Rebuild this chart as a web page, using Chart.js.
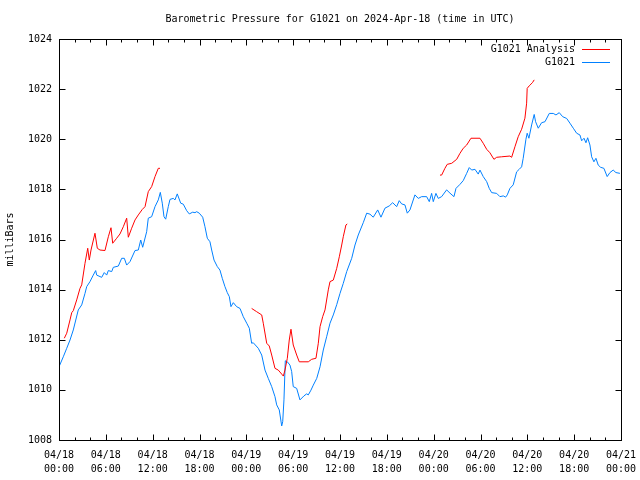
<!DOCTYPE html>
<html><head><meta charset="utf-8">
<script src="https://cdn.jsdelivr.net/npm/chart.js@4/dist/chart.umd.min.js"></script>
<style>html,body{margin:0;padding:0;background:#fff;}#wrap{width:640px;height:480px;}</style>
</head><body><div id="wrap"><canvas id="c" width="640" height="480"></canvas></div>
<script>
const chartTitle = "Barometric Pressure for G1021 on 2024-Apr-18 (time in UTC)";
const yAxisTitle = "milliBars";
const xTickLabels = [["04/18","00:00"],["04/18","06:00"],["04/18","12:00"],["04/18","18:00"],["04/19","00:00"],["04/19","06:00"],["04/19","12:00"],["04/19","18:00"],["04/20","00:00"],["04/20","06:00"],["04/20","12:00"],["04/20","18:00"],["04/21","00:00"]];
const seriesNames = ["G1021 Analysis", "G1021"];

// hours since 2024-04-18 00:00 UTC
const blueHours = [0,0.55,0.99,1.41,1.83,2.47,2.91,3.33,3.55,3.97,4.39,4.70,4.83,5.47,5.80,6.11,6.32,6.75,6.96,7.60,8.03,8.37,8.67,9.10,9.74,10.16,10.47,10.72,11.23,11.44,11.87,12.30,12.72,12.98,13.23,13.45,13.67,14.00,14.22,14.64,14.86,15.15,15.59,15.92,16.36,16.69,17.13,17.42,17.64,17.97,18.41,18.70,19.00,19.34,19.56,19.86,20.28,20.62,20.92,21.26,21.56,21.82,22.03,22.33,22.76,23.19,23.61,24.05,24.38,24.68,24.89,25.53,25.97,26.39,26.81,27.25,27.67,27.89,28.22,28.53,28.66,28.82,28.99,29.25,29.59,29.81,30.01,30.45,30.87,31.38,31.73,31.94,32.28,32.58,33.02,33.44,33.86,34.29,34.72,35.14,35.58,36.00,36.42,36.86,37.50,37.92,38.34,38.98,39.42,39.84,40.26,40.83,41.25,41.76,42.31,42.75,43.26,43.59,43.90,44.32,44.62,44.96,45.60,46.03,46.46,47.10,47.44,47.74,47.95,48.29,48.59,49.02,49.66,50.09,50.60,50.86,51.37,51.79,52.23,52.56,52.87,53.29,53.71,53.93,54.35,54.79,55.12,55.43,56.07,56.49,56.92,57.22,57.43,57.77,58.19,58.63,58.96,59.27,59.47,59.82,59.98,60.20,60.55,60.88,61.06,61.40,61.83,62.26,62.81,63.32,63.67,64.09,64.53,65.04,65.46,65.89,66.32,66.74,66.96,67.26,67.51,67.73,68.02,68.24,68.53,68.79,69.08,69.39,69.81,70.23,70.58,71.00,71.35,71.86];
const blueValues = [1010.92,1011.32,1011.66,1011.99,1012.39,1013.19,1013.39,1013.85,1014.12,1014.32,1014.58,1014.76,1014.58,1014.49,1014.68,1014.58,1014.76,1014.72,1014.89,1014.94,1015.25,1015.25,1014.98,1015.12,1015.56,1015.58,1015.98,1015.69,1016.31,1016.85,1016.91,1017.31,1017.58,1017.88,1017.45,1016.91,1016.81,1017.31,1017.60,1017.64,1017.58,1017.82,1017.45,1017.41,1017.15,1017.02,1017.09,1017.07,1017.11,1017.05,1016.89,1016.51,1016.05,1015.91,1015.58,1015.18,1014.92,1014.78,1014.45,1014.12,1013.88,1013.72,1013.32,1013.48,1013.32,1013.25,1012.92,1012.66,1012.46,1011.86,1011.88,1011.66,1011.39,1010.79,1010.46,1010.13,1009.73,1009.40,1009.20,1008.56,1008.73,1009.60,1011.16,1011.12,1010.99,1010.73,1010.13,1010.06,1009.60,1009.76,1009.84,1009.80,1009.99,1010.19,1010.46,1010.92,1011.59,1012.12,1012.66,1012.99,1013.40,1013.85,1014.25,1014.72,1015.25,1015.78,1016.18,1016.67,1017.05,1017.01,1016.89,1017.18,1016.89,1017.25,1017.34,1017.47,1017.31,1017.55,1017.42,1017.38,1017.05,1017.18,1017.78,1017.64,1017.71,1017.71,1017.51,1017.84,1017.51,1017.84,1017.64,1017.71,1017.98,1017.85,1017.71,1018.04,1018.20,1018.35,1018.64,1018.87,1018.77,1018.80,1018.61,1018.77,1018.51,1018.31,1018.04,1017.87,1017.84,1017.71,1017.74,1017.69,1017.78,1018.04,1018.18,1018.70,1018.80,1018.90,1019.24,1020.00,1020.24,1020.04,1020.57,1020.99,1020.70,1020.44,1020.66,1020.70,1021.03,1021.03,1020.97,1021.06,1020.90,1020.83,1020.64,1020.44,1020.24,1020.17,1019.94,1020.04,1019.86,1020.06,1019.77,1019.30,1019.10,1019.24,1018.97,1018.88,1018.84,1018.51,1018.67,1018.77,1018.67,1018.64];

const redHours = [0.68,0.99,1.41,1.63,1.83,2.27,2.69,2.91,3.33,3.68,3.88,4.10,4.61,4.91,5.25,5.89,6.32,6.66,6.88,7.39,7.81,8.24,8.67,8.88,9.31,9.74,10.16,10.67,11.02,11.44,11.87,12.30,12.72,12.94,18.8,24.68,25.32,25.97,26.17,26.61,26.94,27.25,27.67,28.09,28.53,28.74,28.95,29.25,29.50,29.72,30.01,30.45,30.78,31.94,32.37,32.92,33.22,33.44,33.78,34.08,34.50,34.72,35.14,35.58,35.91,36.22,36.42,36.76,36.93,42.9,48.81,49.02,49.44,49.74,50.31,50.95,51.37,51.79,52.23,52.78,53.93,54.35,54.79,55.21,55.72,56.07,56.71,57.77,57.99,58.41,58.83,59.27,59.69,59.91,59.98,60.24,60.66,60.88];
const redValues = [1012.06,1012.26,1012.79,1013.08,1013.16,1013.59,1014.05,1014.19,1015.05,1015.65,1015.18,1015.58,1016.25,1015.65,1015.58,1015.56,1016.11,1016.47,1015.85,1016.05,1016.22,1016.51,1016.85,1016.09,1016.45,1016.78,1016.98,1017.20,1017.31,1017.91,1018.11,1018.51,1018.84,1018.84,null,1013.25,1013.12,1012.99,1012.66,1011.86,1011.75,1011.39,1010.86,1010.79,1010.63,1010.55,1010.79,1011.26,1011.99,1012.42,1011.79,1011.39,1011.12,1011.12,1011.22,1011.26,1011.86,1012.52,1012.92,1013.19,1013.99,1014.32,1014.38,1014.85,1015.31,1015.78,1016.11,1016.58,1016.62,null,1018.57,1018.57,1018.84,1019.00,1019.04,1019.20,1019.44,1019.64,1019.77,1020.04,1020.04,1019.84,1019.60,1019.46,1019.20,1019.28,1019.30,1019.33,1019.28,1019.70,1020.10,1020.40,1020.84,1021.44,1022.03,1022.13,1022.26,1022.37];

const FONT_FAMILY = '"DejaVu Sans Mono", "Liberation Mono", monospace';
const FONT_SIZE = 10;
const RED = '#ff0000';
const BLUE = '#0080ff';

const toPoints = (xs, ys) => xs.map((x, i) => ({x: x, y: ys[i]}));

const gnuplotFrame = {
  id: 'gnuplotFrame',
  afterDraw(chart) {
    const {ctx, chartArea: a, scales: {x, y}} = chart;
    ctx.save();
    ctx.strokeStyle = '#000';
    ctx.lineWidth = 1;
    ctx.beginPath();
    const L = Math.round(a.left) + 0.5, R = Math.round(a.right) + 0.5;
    const T = Math.round(a.top) + 0.5, B = Math.round(a.bottom) + 0.5;
    // x ticks (major from scale, minor every 2h)
    for (let v = x.min; v <= x.max + 1e-9; v += 2) {
      const px = Math.round(x.getPixelForValue(v)) + 0.5;
      const len = (Math.abs(v % 6) < 1e-9) ? 6 : 3;
      ctx.moveTo(px, B); ctx.lineTo(px, B - len);
      ctx.moveTo(px, T); ctx.lineTo(px, T + len);
    }
    y.ticks.forEach(t => {
      const py = Math.round(y.getPixelForValue(t.value)) + 0.5;
      ctx.moveTo(L, py); ctx.lineTo(L + 6, py);
      ctx.moveTo(R, py); ctx.lineTo(R - 6, py);
    });
    ctx.stroke();
    ctx.strokeRect(L, T, R - L, B - T);

    ctx.fillStyle = '#000';
    ctx.font = FONT_SIZE + 'px ' + FONT_FAMILY;
    // title
    ctx.textAlign = 'center';
    ctx.textBaseline = 'middle';
    ctx.fillText(chartTitle, (a.left + a.right) / 2, 19);
    // y axis title
    ctx.save();
    ctx.translate(10, (a.top + a.bottom) / 2);
    ctx.rotate(-Math.PI / 2);
    ctx.fillText(yAxisTitle, 0, 0);
    ctx.restore();
    // legend
    ctx.textAlign = 'right';
    chart.data.datasets.forEach((ds, i) => {
      const ly = 49 + i * 13;
      ctx.fillStyle = '#000';
      ctx.fillText(ds.label, 575, ly);
      ctx.strokeStyle = ds.borderColor;
      ctx.beginPath();
      ctx.moveTo(582, Math.round(ly) + 0.5);
      ctx.lineTo(610, Math.round(ly) + 0.5);
      ctx.stroke();
    });
    ctx.restore();
  }
};

new Chart(document.getElementById('c'), {
  type: 'line',
  data: {
    datasets: [
      {label: seriesNames[0], data: toPoints(redHours, redValues), borderColor: RED, backgroundColor: RED, borderWidth: 1, pointRadius: 0, tension: 0, spanGaps: false},
      {label: seriesNames[1], data: toPoints(blueHours, blueValues), borderColor: BLUE, backgroundColor: BLUE, borderWidth: 1, pointRadius: 0, tension: 0}
    ]
  },
  options: {
    responsive: false,
    animation: false,
    devicePixelRatio: 1,
    layout: {padding: {top: 39, right: 19, left: 0, bottom: 0}},
    plugins: {legend: {display: false}, title: {display: false}, tooltip: {enabled: false}},
    scales: {
      x: {
        type: 'linear', min: 0, max: 72,
        grid: {display: false, drawTicks: false},
        border: {display: false},
        ticks: {
          stepSize: 6, autoSkip: false, maxRotation: 0, padding: 8, color: '#000',
          font: {family: FONT_FAMILY, size: FONT_SIZE, lineHeight: 1.4},
          callback: (v) => xTickLabels[Math.round(v / 6)]
        },
        afterFit: (s) => { s.height = 40; s.paddingLeft = 0; s.paddingRight = 0; }
      },
      y: {
        type: 'linear', min: 1008, max: 1024,
        grid: {display: false, drawTicks: false},
        border: {display: false},
        ticks: {
          stepSize: 2, padding: 7, color: '#000',
          font: {family: FONT_FAMILY, size: FONT_SIZE},
          callback: (v) => String(v)
        },
        afterFit: (s) => { s.width = 59; s.paddingTop = 0; s.paddingBottom = 0; }
      }
    }
  },
  plugins: [gnuplotFrame]
});
</script>
</body></html>
